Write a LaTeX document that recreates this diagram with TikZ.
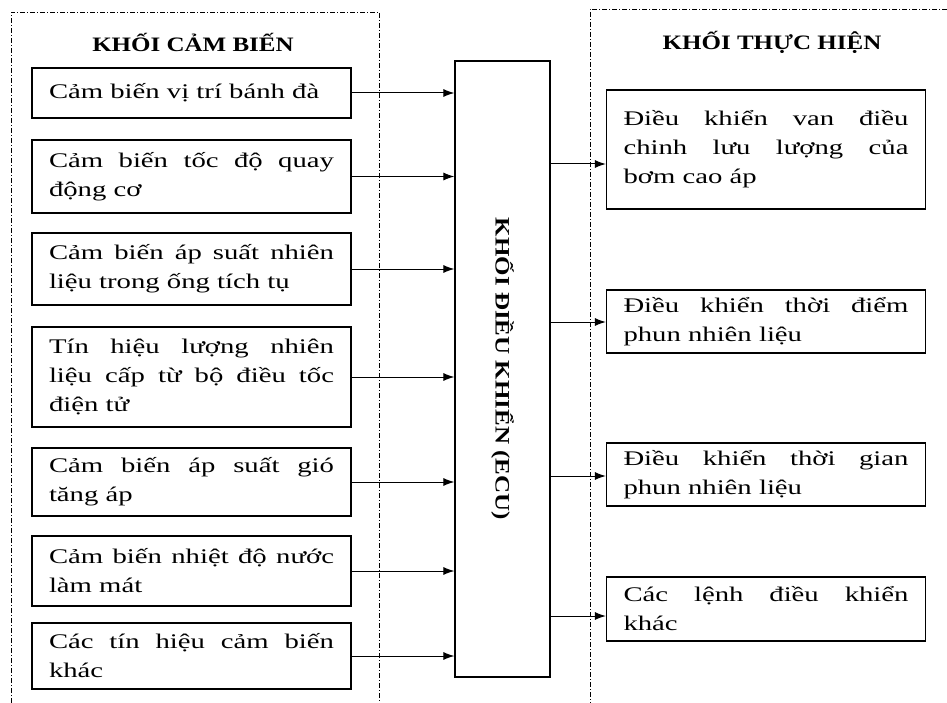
\documentclass[tikz,border=0pt]{standalone}
\usepackage{fontspec}
\setmainfont{Liberation Serif}[FakeStretch=1.38]
\newfontfamily\headfont{Liberation Serif}[FakeStretch=1.22]
\usetikzlibrary{arrows.meta}

\begin{document}
\begin{tikzpicture}[x=1pt,y=-1pt,
    sensbox/.style={draw,line width=1.2pt,text width=285pt,
        inner xsep=17pt,inner ysep=0pt,minimum height=#1,align=justify,
        font=\fontsize{20.8}{29}\selectfont},
    headtext/.style={font=\headfont\bfseries\fontsize{20.5}{24}\selectfont},
    frame/.style={line width=0.9pt,dash pattern=on 5pt off 2pt on 1pt off 2pt},
    link/.style={line width=1pt,-{Latex[length=11pt,width=8pt]}}]

\useasboundingbox (0,0) rectangle (947,703);

% Dash-dot frames round the sensor block and the actuator block.
\draw[frame]
    (11,703) -- (11,12) -- (379,12) -- (379,703);
\draw[frame]
    (947,9) -- (590,9) -- (590,703);

% Block titles.
\node[headtext] (senstitle) at (193,42) {KHỐI CẢM BIẾN};
\node[headtext] (acttitle) at (772,42) {KHỐI THỰC HIỆN};

% Sensor inputs, left column.
\node[sensbox=50pt] (sens1) at (191.5,93)
    {Cảm biến vị trí bánh đà};
\node[sensbox=73pt] (sens2) at (191.5,176.5)
    {Cảm biến tốc độ quay \linebreak động cơ};
\node[sensbox=72pt] (sens3) at (191.5,269)
    {Cảm biến áp suất nhiên \linebreak liệu trong ống tích tụ};
\node[sensbox=100pt] (sens4) at (191.5,377)
    {Tín hiệu lượng nhiên \linebreak liệu cấp từ bộ điều tốc \linebreak điện tử};
\node[sensbox=68pt] (sens5) at (191.5,482)
    {Cảm biến áp suất gió \linebreak tăng áp};
\node[sensbox=70pt] (sens6) at (191.5,571)
    {Cảm biến nhiệt độ nước \linebreak làm mát};
\node[sensbox=66pt] (sens7) at (191.5,656)
    {Các tín hiệu cảm biến \linebreak khác};

% ECU body, text reads top to bottom.
\node[draw,line width=1.2pt,minimum width=95pt,minimum height=616pt,
    inner sep=0pt] (ecu) at (502.5,369) {};
\node[headtext,rotate=-90] (ecutext) at (ecu.center)
    {KHỐI ĐIỀU KHIỂN (ECU)};

% Actuator outputs, right column.
\node[sensbox=119pt] (act1) at (766,149.5)
    {Điều khiển van điều \linebreak chinh lưu lượng của \linebreak bơm cao áp};
\node[sensbox=63pt] (act2) at (766,321.5)
    {Điều khiển thời điểm \linebreak phun nhiên liệu};
\node[sensbox=63pt] (act3) at (766,474.5)
    {Điều khiển thời gian \linebreak phun nhiên liệu};
\node[sensbox=64pt] (act4) at (766,609)
    {Các lệnh điều khiển \linebreak khác};

% Each sensor feeds the ECU.
\foreach \n in {1,...,7} {
    \draw[link] (sens\n.east) -- (sens\n.east -| ecu.west);
}

% ECU drives each actuator; arrows sit a bit low on some boxes.
\foreach \n/\d in {1/14.5,2/0.5,3/1.5,4/7} {
    \coordinate (in\n) at ([yshift=-\d pt]act\n.west);
    \draw[link] (ecu.east |- in\n) -- (in\n);
}

\end{tikzpicture}
\end{document}
